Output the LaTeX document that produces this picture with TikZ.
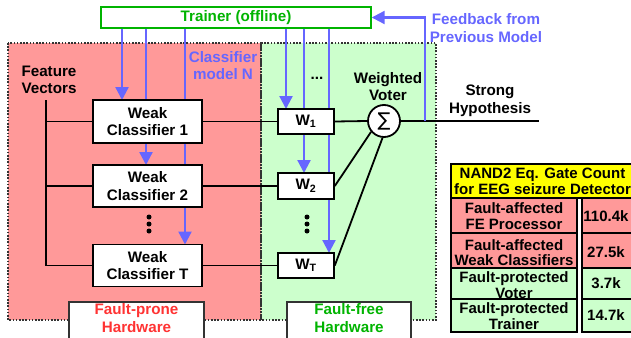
\documentclass[tikz,border=0pt]{standalone}
\usepackage{fontspec}
\setmainfont{Liberation Sans}
\newfontfamily\symfont{DejaVu Sans}
\usetikzlibrary{arrows.meta}

\definecolor{pronefill}{HTML}{FF9999}
\definecolor{freefill}{HTML}{CCFFCC}
\definecolor{arrowblue}{HTML}{6666FF}
\definecolor{okgreen}{HTML}{00B400}
\definecolor{warnred}{HTML}{FF3333}
\definecolor{headyellow}{HTML}{FFFF00}
\definecolor{edgegray}{HTML}{333333}

\tikzset{
  lbl/.style={font=\bfseries\fontsize{15.2}{17.5}\selectfont, align=center, inner sep=0pt},
  tbl/.style={font=\bfseries\fontsize{15}{15.5}\selectfont, align=center, inner sep=0pt},
  wbox/.style={lbl, rectangle, draw=black, fill=white, line width=1.6pt},
  barrow/.style={draw=arrowblue, line width=2.3pt, -{Triangle[length=13pt,width=13pt]}},
  wire/.style={draw=black, line width=1.8pt},
  zone/.style={draw=edgegray, line width=1.3pt, dash pattern=on 1.6pt off 1.6pt},
  cell/.style={draw=black, line width=1.7pt},
  bigdot/.style={fill=black, draw=none},
}

\begin{document}
\begin{tikzpicture}[x=1pt, y=-1pt]
\useasboundingbox (0,0) rectangle (631,337);

% hardware zones
\fill[pronefill] (8,43) rectangle (261,320);
\fill[freefill] (261,43) rectangle (436,320);
\draw[zone] (8,43) rectangle (261,320);
\draw[zone] (261,43) rectangle (436,320);

% trainer
\node[lbl, rectangle, draw=okgreen, fill=white, line width=1.4pt,
      minimum width=270pt, minimum height=21pt, text=okgreen] (trainer) at (236,17.5) {Trainer (offline)};

% box placement (drawn later, after the arrows that pass behind them)
\path (147.5,121.5) coordinate (pc1) (147.5,186) coordinate (pc2) (147.5,265.5) coordinate (pcT)
      (306,121.5) coordinate (pw1) (306,186) coordinate (pw2) (306,265.5) coordinate (pwT);

% model update arrows from the trainer
\draw[barrow] ([xshift=-25.5pt]pc1 |- trainer.south) -- ([xshift=-25.5pt,yshift=21.5pt]pc1);
\draw[barrow] ([xshift=-1.5pt]pc2 |- trainer.south) -- ([xshift=-1.5pt,yshift=21pt]pc2);
\draw[barrow] ([xshift=37.5pt]pcT |- trainer.south) -- ([xshift=37.5pt,yshift=21pt]pcT);
\draw[barrow] ([xshift=-20pt]pw1 |- trainer.south) -- ([xshift=-20pt,yshift=12.5pt]pw1);
\draw[barrow] ([xshift=-2pt]pw2 |- trainer.south) -- ([xshift=-2pt,yshift=13pt]pw2);
\draw[barrow] ([xshift=23pt]pwT |- trainer.south) -- ([xshift=23pt,yshift=12.5pt]pwT);

% weak classifiers
\node[wbox, minimum width=109pt, minimum height=43pt] (wc1) at (pc1) {Weak\\Classifier 1};
\node[wbox, minimum width=109pt, minimum height=42pt] (wc2) at (pc2) {Weak\\Classifier 2};
\node[wbox, minimum width=109pt, minimum height=42pt] (wcT) at (pcT) {Weak\\Classifier T};

% weights
\node[wbox, minimum width=56pt, minimum height=25pt] (w1) at (pw1) {W\textsubscript{1}};
\node[wbox, minimum width=56pt, minimum height=26pt] (w2) at (pw2) {W\textsubscript{2}};
\node[wbox, minimum width=56pt, minimum height=25pt] (wT) at (pwT) {W\textsubscript{T}};

% voter
\node[circle, draw=black, fill=white, line width=1.8pt, minimum size=32pt, inner sep=0pt,
      font=\symfont\fontsize{19}{19}\selectfont] (sig) at (384,121) {∑};

% feature vector bus
\node[lbl] (fvlabel) at (49,80) {Feature\\Vectors};
\coordinate (fv) at (46,100);
\draw[wire] (fv) |- (wc1.west);
\draw[wire] (fv) |- (wc2.west);
\draw[wire] (fv) |- (wcT.west);

% classifier outputs to weights and voter
\draw[wire] (wc1.east) -- (w1.west);
\draw[wire] (wc2.east) -- (w2.west);
\draw[wire] (wcT.east) -- (wT.west);
\draw[wire] (w1.east) -- (sig.west);
\draw[wire] (w2.east) -- (sig.220);
\draw[wire] (wT.east) -- (sig.265);

% strong hypothesis output and feedback
\coordinate (out) at (539,121);
\coordinate (fb) at (425,121);
\draw[wire] (sig.east) -- (out);
\draw[barrow] (fb) |- (trainer.east);

% vertical ellipses
\foreach \yy in {217,224,231} {
  \fill[bigdot] (149,\yy) circle (2.5pt);
  \fill[bigdot] (307,\yy) circle (2.5pt);
}

% labels
\node[lbl, text=arrowblue] (cmn) at (223,65.5) {Classifier\\model N};
\node[lbl] (hdots) at (317,78) {...};
\node[lbl] (wv) at (388,86.5) {Weighted\\Voter};
\node[lbl] (sh) at (490,101) {Strong\\Hypothesis};
\node[lbl, text=arrowblue] (fbl) at (486,28) {Feedback from\\Previous Model};

% hardware class tags
\node[rectangle, draw=edgegray, fill=white, line width=1.4pt, minimum width=135pt, minimum height=45pt] (tagp) at (136.5,324.5) {};
\node[lbl, text=warnred] (tagptext) at (136.5,318) {Fault-prone\\Hardware};
\node[rectangle, draw=edgegray, fill=white, line width=1.4pt, minimum width=124pt, minimum height=45pt] (tagf) at (349,324.5) {};
\node[lbl, text=okgreen] (tagftext) at (349,318) {Fault-free\\Hardware};

% gate count table
\draw[cell, fill=headyellow] (451,164) rectangle (634,198);
\draw[cell, fill=pronefill] (451,198) rectangle (577,233);
\draw[cell, fill=pronefill] (451,233) rectangle (577,268);
\draw[cell, fill=freefill] (451,268) rectangle (577,299);
\draw[cell, fill=freefill] (451,299) rectangle (577,332);
\draw[cell, fill=pronefill] (582,198) rectangle (634,233);
\draw[cell, fill=pronefill] (582,233) rectangle (634,268);
\draw[cell, fill=freefill] (582,268) rectangle (634,299);
\draw[cell, fill=freefill] (582,299) rectangle (634,332);

\node[tbl] (th) at (542.5,181.5) {NAND2 Eq. Gate Count\\for EEG seizure Detector};
\node[tbl] (r1) at (514,216) {Fault-affected\\FE Processor};
\node[tbl] (r2) at (514,252.5) {Fault-affected\\Weak Classifiers};
\node[tbl] (r3) at (514,285) {Fault-protected\\Voter};
\node[tbl] (r4) at (514,316) {Fault-protected\\Trainer};
\node[tbl] (v1) at (606,216) {110.4k};
\node[tbl] (v2) at (606,252.5) {27.5k};
\node[tbl] (v3) at (606,283.5) {3.7k};
\node[tbl] (v4) at (606,315.5) {14.7k};
\end{tikzpicture}
\end{document}
